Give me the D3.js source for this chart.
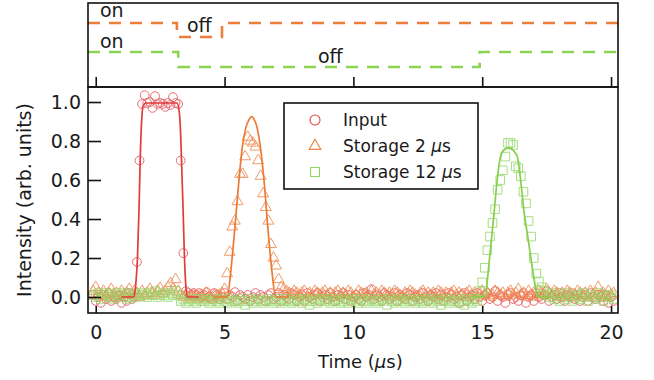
<!DOCTYPE html>
<html><head><meta charset="utf-8">
<script src="https://cdn.jsdelivr.net/npm/d3@7"></script>
<style>
body{margin:0;background:#fff}
svg{display:block}
text{font-family:"DejaVu Sans",sans-serif;fill:#1a1a1a}
</style>
</head><body>
<svg id="c" width="654" height="380"></svg>
<script>
// ---------- data ----------
const times = [
-0.1,0.0,0.1,0.2,0.3,0.4,0.5,0.6,0.7,0.8,
0.9,1.0,1.1,1.2,1.3,1.4,1.5,1.6,1.7,1.8,
1.9,2.0,2.1,2.2,2.3,2.4,2.5,2.6,2.7,2.8,
2.9,3.0,3.1,3.2,3.3,3.4,3.5,3.6,3.7,3.8,
3.9,4.0,4.1,4.2,4.3,4.4,4.5,4.6,4.7,4.8,
4.9,5.0,5.1,5.2,5.3,5.4,5.5,5.6,5.7,5.8,
5.9,6.0,6.1,6.2,6.3,6.4,6.5,6.6,6.7,6.8,
6.9,7.0,7.1,7.2,7.3,7.4,7.5,7.6,7.7,7.8,
7.9,8.0,8.1,8.2,8.3,8.4,8.5,8.6,8.7,8.8,
8.9,9.0,9.1,9.2,9.3,9.4,9.5,9.6,9.7,9.8,
9.9,10.0,10.1,10.2,10.3,10.4,10.5,10.6,10.7,10.8,
10.9,11.0,11.1,11.2,11.3,11.4,11.5,11.6,11.7,11.8,
11.9,12.0,12.1,12.2,12.3,12.4,12.5,12.6,12.7,12.8,
12.9,13.0,13.1,13.2,13.3,13.4,13.5,13.6,13.7,13.8,
13.9,14.0,14.1,14.2,14.3,14.4,14.5,14.6,14.7,14.8,
14.9,15.0,15.1,15.2,15.3,15.4,15.5,15.6,15.7,15.8,
15.9,16.0,16.1,16.2,16.3,16.4,16.5,16.6,16.7,16.8,
16.9,17.0,17.1,17.2,17.3,17.4,17.5,17.6,17.7,17.8,
17.9,18.0,18.1,18.2,18.3,18.4,18.5,18.6,18.7,18.8,
18.9,19.0,19.1,19.2,19.3,19.4,19.5,19.6,19.7,19.8,
19.9,20.0,20.1];

const inputVals = [
0.01,-0.02,0.00,-0.03,0.01,-0.01,0.02,-0.02,0.00,-0.01,
0.01,-0.03,0.00,-0.02,0.02,-0.01,0.00,0.18,0.70,0.99,
1.035,0.995,1.00,0.97,1.03,0.99,0.995,0.99,0.975,0.995,
0.985,1.025,0.995,0.99,0.70,0.225,0.03,0.02,0.01,0.02,
0.01,0.02,0.00,0.01,0.025,0.00,-0.01,0.02,0.01,-0.01,
0.00,0.02,-0.01,0.01,0.00,0.025,-0.02,0.01,0.00,-0.01,
0.01,-0.02,0.00,0.02,-0.01,0.01,0.00,-0.02,0.01,0.02,
-0.01,0.00,0.02,-0.02,0.01,0.00,-0.01,0.02,0.01,-0.02,
0.00,0.01,-0.02,0.02,0.00,-0.01,0.01,0.02,-0.02,0.00,
0.01,-0.01,0.02,0.00,-0.02,0.01,0.00,0.02,-0.01,0.01,
-0.02,0.00,0.01,-0.01,-0.02,0.02,0.00,0.01,0.04,-0.01,
0.01,0.00,-0.02,0.02,0.01,-0.01,0.00,0.02,-0.02,0.01,
0.00,-0.01,0.02,0.01,-0.02,0.00,0.01,-0.01,0.02,0.00,
-0.02,0.01,0.00,0.02,-0.01,0.01,-0.02,0.00,0.02,0.01,
-0.01,0.00,-0.03,0.01,0.02,-0.02,0.00,0.01,-0.01,0.02,
0.00,-0.02,0.01,0.02,-0.01,0.00,0.03,-0.02,0.01,0.00,
-0.03,0.01,0.02,-0.01,0.00,-0.02,0.01,0.02,-0.03,0.00,
0.01,-0.02,0.02,0.00,-0.01,0.01,0.03,-0.02,0.00,0.01,
-0.01,0.02,0.00,-0.02,0.01,0.00,0.02,-0.01,0.01,-0.02,
0.00,0.01,-0.02,0.02,0.00,-0.01,0.01,0.00,-0.02,0.01,
-0.03,0.00,-0.02];

const storage2Vals = [
0.03,0.05,0.02,0.01,0.03,0.00,0.02,0.04,0.01,0.02,
0.00,0.03,0.01,0.02,0.04,0.01,0.03,0.02,0.00,0.03,
0.01,0.02,0.04,0.02,0.01,0.03,0.045,0.02,0.03,0.05,
0.07,0.04,0.09,0.03,0.01,0.00,0.01,-0.01,0.00,0.01,
0.00,-0.01,0.01,0.00,0.02,0.00,-0.01,0.01,0.00,0.01,
0.02,0.04,0.12,0.23,0.36,0.39,0.49,0.63,0.63,0.72,
0.82,0.80,0.79,0.77,0.70,0.62,0.53,0.46,0.39,0.27,
0.20,0.16,0.09,0.05,0.04,0.03,0.02,0.01,0.03,0.02,
0.01,0.02,0.03,0.00,0.02,0.01,0.03,0.02,0.01,0.02,
0.03,0.01,0.02,0.00,0.02,0.03,0.01,0.02,0.01,0.03,
0.02,0.00,0.01,0.03,0.02,0.01,0.02,0.00,0.03,0.01,
0.02,0.01,0.03,0.02,0.00,0.02,0.01,0.03,0.02,0.01,
0.00,0.02,0.01,0.03,0.02,0.01,0.00,0.02,0.03,0.01,
0.02,0.01,0.02,0.00,0.03,0.02,0.01,0.02,0.00,0.02,
0.03,0.01,0.02,0.01,0.00,0.02,0.03,0.01,0.02,0.00,
0.02,0.03,0.01,0.02,0.00,0.01,0.03,0.02,0.01,0.02,
0.00,0.02,0.03,0.01,0.02,0.04,0.01,0.02,0.00,0.03,
0.01,0.02,0.00,0.03,0.02,0.01,0.04,0.02,0.01,0.03,
0.02,0.00,0.02,0.01,0.03,0.02,0.00,0.01,0.03,0.02,
0.01,0.02,0.00,0.03,0.01,0.02,0.05,0.01,0.02,0.00,
0.03,0.01,0.02];

const storage12Vals = [
0.01,0.00,0.02,-0.01,0.01,0.02,0.00,0.01,-0.01,0.02,
0.00,0.01,0.02,0.00,-0.01,0.01,0.02,0.00,0.01,0.02,
0.01,0.00,0.02,0.01,0.03,0.00,0.01,0.02,0.01,0.00,
0.02,0.01,0.03,0.01,-0.02,-0.01,-0.03,-0.02,-0.01,-0.02,
-0.03,-0.01,-0.02,-0.02,-0.01,-0.03,-0.02,-0.01,-0.02,-0.03,
-0.01,-0.02,-0.03,-0.01,-0.02,-0.02,-0.03,-0.01,-0.02,-0.04,
-0.02,-0.01,-0.03,-0.02,-0.01,-0.02,-0.03,-0.02,-0.01,-0.02,
-0.03,-0.02,-0.01,-0.03,-0.02,-0.01,-0.02,-0.03,-0.02,-0.01,
-0.02,-0.03,-0.01,-0.02,-0.04,-0.02,-0.01,-0.03,-0.02,-0.01,
-0.02,-0.01,-0.03,-0.02,-0.02,-0.01,-0.03,-0.02,-0.01,-0.03,
-0.02,-0.01,-0.02,-0.03,-0.01,-0.02,-0.03,-0.02,-0.01,-0.02,
-0.03,-0.02,-0.01,-0.02,-0.04,-0.01,-0.02,-0.03,-0.02,-0.01,
-0.02,-0.03,-0.01,-0.02,-0.02,-0.03,-0.01,-0.02,-0.03,-0.02,
-0.01,-0.02,-0.03,-0.01,-0.02,-0.04,-0.02,-0.01,-0.03,-0.02,
-0.02,-0.01,-0.03,-0.02,-0.04,-0.01,-0.02,-0.03,-0.01,-0.02,
0.03,0.075,0.15,0.24,0.31,0.38,0.45,0.55,0.60,0.65,
0.72,0.79,0.79,0.78,0.67,0.66,0.62,0.54,0.48,0.39,
0.31,0.20,0.12,0.08,0.05,0.03,0.01,0.00,0.02,-0.01,
0.01,-0.02,0.00,0.02,-0.01,0.01,-0.02,0.00,0.01,-0.01,
0.02,0.00,-0.02,0.01,0.00,-0.01,0.02,0.00,-0.02,0.01,
0.00,0.01,-0.01];

// fitted curves
const inputFitT = [1.0,1.47,1.55,1.62,1.68,1.73,1.78,1.84,1.95,2.5,3.15,3.22,3.28,3.33,3.39,3.44,3.49,3.55,4.0];
const inputFitV = [0,0,0.06,0.2,0.45,0.72,0.9,0.98,0.995,0.995,0.995,0.97,0.88,0.70,0.45,0.22,0.07,0,0];
const storage2FitT = [4.6,5.1,5.26,5.39,5.56,5.69,5.83,5.95,6.05,6.15,6.26,6.39,6.53,6.69,6.82,6.99,7.5];
const storage2FitV = [0,0,0.155,0.34,0.60,0.77,0.87,0.91,0.925,0.91,0.87,0.77,0.60,0.34,0.155,0,0];
const storage12FitT = [14.6,15.13,15.2,15.33,15.46,15.58,15.71,15.85,16.05,16.25,16.36,16.49,16.63,16.78,16.92,17.09,17.16,17.6];
const storage12FitV = [0,0,0.087,0.26,0.43,0.60,0.72,0.755,0.765,0.745,0.72,0.60,0.43,0.30,0.17,0.035,0,0];

// control timing (1 = on, 0 = off)
const orangeCtrlT = [-0.3,3.15,4.9,20.27];
const orangeCtrlS = [1,0,1,1];
const greenCtrlT = [-0.3,3.2,14.9,20.27];
const greenCtrlS = [1,0,1,1];

const xTicks = [0,5,10,15,20];
const yTicks = [0.0,0.2,0.4,0.6,0.8,1.0];
const seriesNames = [["Input",""],["Storage 2 ","\u03bc","s"],["Storage 12 ","\u03bc","s"]];

// ---------- drawing ----------
const C = {red:"#e5484d", redLine:"#e23b3b", orange:"#ef8345", orangeLine:"#eb7a32",
           green:"#92d663", greenLine:"#86cf4c", dashOrange:"#ee7d3b", dashGreen:"#8bd450"};
const svg = d3.select("#c");
const L = 88, R = 618, T1 = 3, B1 = 87, T2 = 87, B2 = 313;
const x = d3.scaleLinear().domain([-0.3, 20.27]).range([L, R]);
const y = d3.scaleLinear().domain([-0.082, 1.077]).range([B2, T2]);

// top panel
const topG = svg.append("g");
const yOrange = d3.scaleLinear().domain([0,1]).range([37,23]);
const yGreen = d3.scaleLinear().domain([0,1]).range([67,52]);
const stepLine = (ys) => d3.line().x(d=>x(d[0])).y(d=>ys(d[1])).curve(d3.curveStepAfter);
topG.append("path").datum(d3.zip(orangeCtrlT, orangeCtrlS))
  .attr("d", stepLine(yOrange)).attr("fill","none").attr("stroke",C.dashOrange)
  .attr("stroke-width",2.6).attr("stroke-dasharray","12,9");
topG.append("path").datum(d3.zip(greenCtrlT, greenCtrlS))
  .attr("d", stepLine(yGreen)).attr("fill","none").attr("stroke",C.dashGreen)
  .attr("stroke-width",2.6).attr("stroke-dasharray","12,9");
const lab = (t, px, py) => topG.append("text").attr("x",px).attr("y",py).attr("font-size",19).text(t);
lab("on", 100, 17); lab("off", 187, 32); lab("on", 100, 48); lab("off", 318, 63);
topG.append("g").attr("transform",`translate(0,${B1})`)
  .call(d3.axisBottom(x).tickValues(xTicks).tickSizeInner(-10).tickSizeOuter(0).tickFormat(""))
  .call(g=>{g.select(".domain").remove(); g.selectAll("line").attr("stroke","#111").attr("stroke-width",1.6);});
topG.append("rect").attr("x",L).attr("y",T1).attr("width",R-L).attr("height",B1-T1)
  .attr("fill","none").attr("stroke","#111").attr("stroke-width",1.6);

// main panel
const main = svg.append("g");
function drawSeries(vals, kind, color){
  const data = d3.zip(times, vals);
  const g = main.append("g").attr("fill","none").attr("stroke",color).attr("stroke-width",1).attr("opacity",0.8);
  if(kind==="circle"){
    g.selectAll("circle").data(data).join("circle").attr("cx",d=>x(d[0])).attr("cy",d=>y(d[1])).attr("r",4.4);
  } else {
    const sym = d3.symbol().type(kind==="tri"?d3.symbolTriangle:d3.symbolSquare).size(kind==="tri"?52:74);
    g.selectAll("path").data(data).join("path").attr("transform",d=>`translate(${x(d[0])},${y(d[1])})`).attr("d",sym);
  }
}
function drawFit(T, V, color){
  main.append("path").datum(d3.zip(T,V))
    .attr("d", d3.line().x(d=>x(d[0])).y(d=>y(d[1])).curve(d3.curveMonotoneX))
    .attr("fill","none").attr("stroke",color).attr("stroke-width",1.7);
}
drawSeries(inputVals,"circle",C.red);
drawSeries(storage2Vals,"tri",C.orange);
drawSeries(storage12Vals,"sq",C.green);
drawFit(inputFitT,inputFitV,C.redLine);
drawFit(storage2FitT,storage2FitV,C.orangeLine);
drawFit(storage12FitT,storage12FitV,C.greenLine);

main.append("g").attr("transform",`translate(0,${B2})`)
  .call(d3.axisBottom(x).tickValues(xTicks).tickSizeInner(-7).tickSizeOuter(0).tickPadding(13))
  .call(g=>{g.select(".domain").remove(); g.selectAll("line").attr("stroke","#111").attr("stroke-width",1.6);
           g.selectAll("text").attr("font-size",19).attr("font-family","DejaVu Sans").attr("fill","#1a1a1a");});
main.append("g").attr("transform",`translate(${L},0)`)
  .call(d3.axisLeft(y).tickValues(yTicks).tickSizeInner(-13).tickSizeOuter(0).tickPadding(7).tickFormat(d3.format(".1f")))
  .call(g=>{g.select(".domain").remove(); g.selectAll("line").attr("stroke","#111").attr("stroke-width",1.6);
           g.selectAll("text").attr("font-size",19).attr("font-family","DejaVu Sans").attr("fill","#1a1a1a");});
main.append("rect").attr("x",L).attr("y",T2).attr("width",R-L).attr("height",B2-T2)
  .attr("fill","none").attr("stroke","#111").attr("stroke-width",1.6);

const xt = svg.append("text").attr("x",318).attr("y",368).attr("font-size",18);
xt.append("tspan").text("Time (");
xt.append("tspan").attr("font-style","italic").text("\u03bc");
xt.append("tspan").text("s)");
svg.append("text").attr("transform",`translate(31,${(T2+B2)/2}) rotate(-90)`).attr("text-anchor","middle").attr("font-size",19)
  .text("Intensity (arb. units)");

// legend
const lg = svg.append("g");
lg.append("rect").attr("x",284).attr("y",103).attr("width",194).attr("height",86)
  .attr("fill","#fff").attr("stroke","#111").attr("stroke-width",1.6);
const kinds = ["circle","tri","sq"], cols=[C.red,C.orange,C.green];
seriesNames.forEach((n,i)=>{
  const cy = 120 + i*26;
  if(kinds[i]==="circle") lg.append("circle").attr("cx",315).attr("cy",cy).attr("r",5).attr("fill","none").attr("stroke",cols[i]).attr("stroke-width",1.1);
  else lg.append("path").attr("transform",`translate(315,${cy})`)
    .attr("d",d3.symbol().type(kinds[i]==="tri"?d3.symbolTriangle:d3.symbolSquare).size(kinds[i]==="tri"?60:80))
    .attr("fill","none").attr("stroke",cols[i]).attr("stroke-width",1.1);
  const t = lg.append("text").attr("x",343).attr("y",cy+6).attr("font-size",17);
  t.append("tspan").text(n[0]);
  if(n.length>2){ t.append("tspan").attr("font-style","italic").text(n[1]); t.append("tspan").text(n[2]); }
});
</script>
</body></html>
